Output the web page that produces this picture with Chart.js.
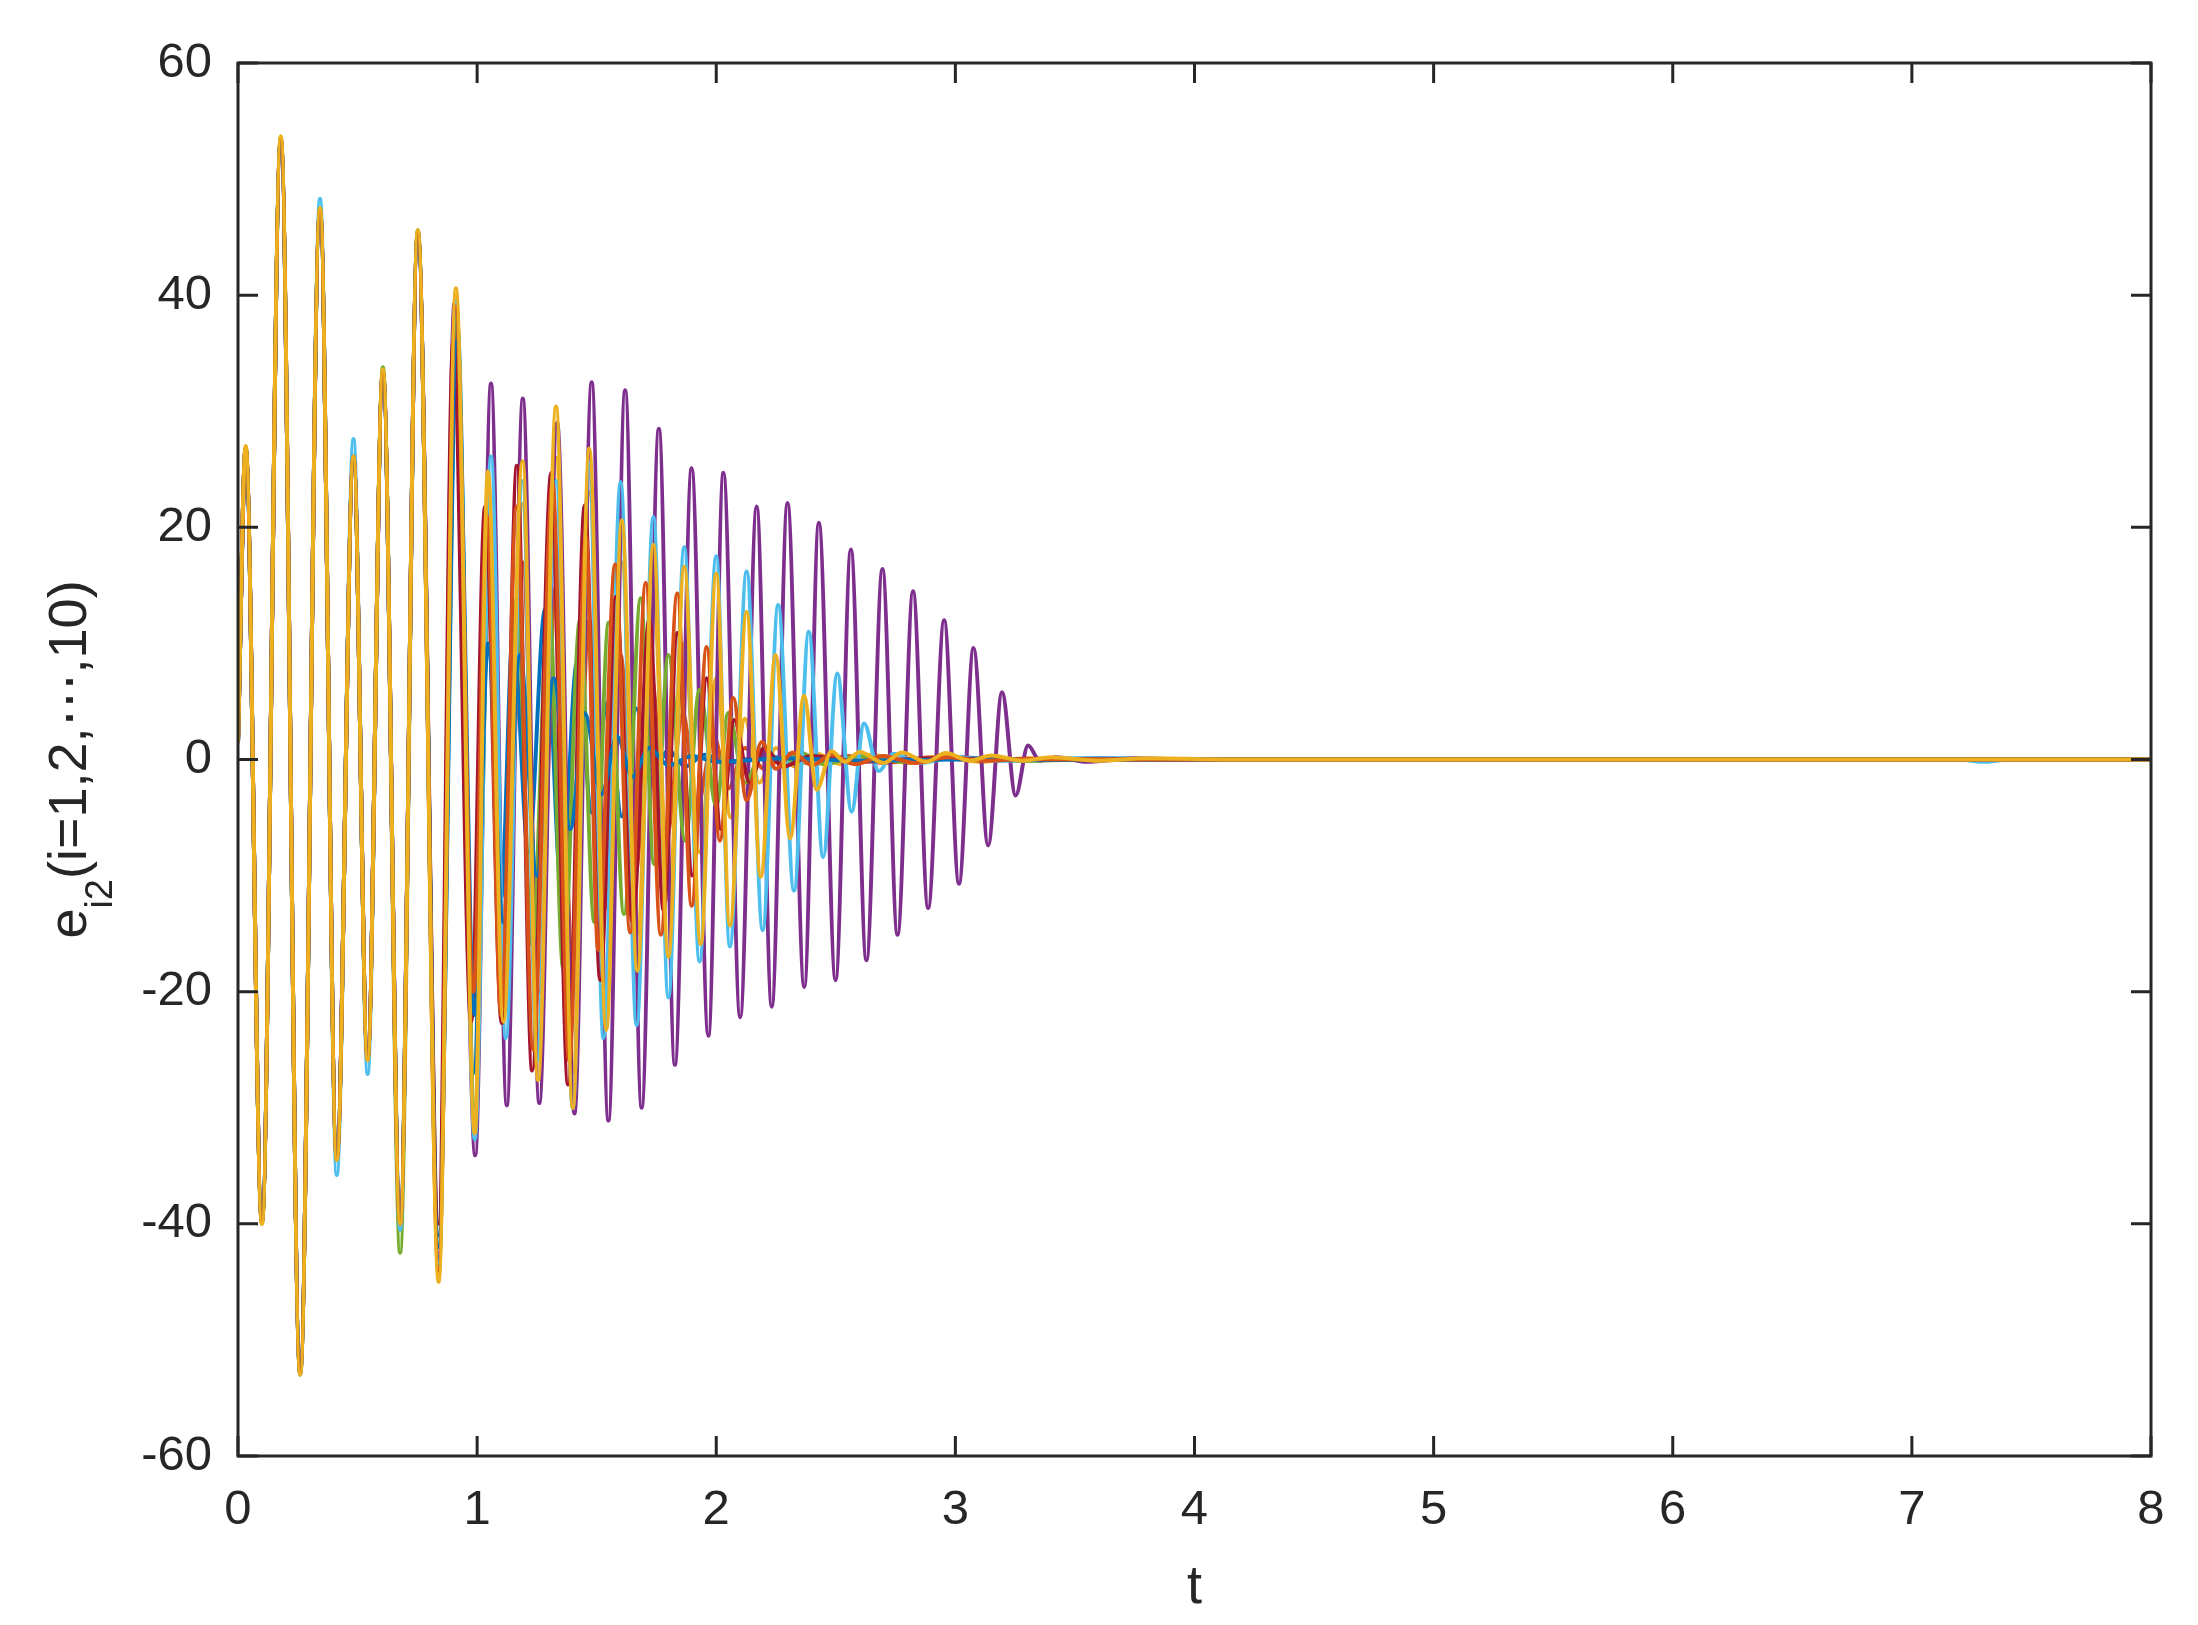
<!DOCTYPE html>
<html><head><meta charset="utf-8">
<script src="https://cdn.jsdelivr.net/npm/chart.js@4.4.0/dist/chart.umd.min.js"></script>
<style>html,body{margin:0;padding:0;background:#fff}#wrap{width:2198px;height:1625px}</style>
</head><body><div id="wrap"><canvas id="c" width="2198" height="1625"></canvas></div>
<script>
// ---- data: [t, e_i2] extrema ----
const e1 = [[0,1.5],[.032,26.5],[.100,-39.5],[.179,53],[.260,-52.5],[.343,47],[.413,-34],[.483,26],[.542,-25.5],[.606,33],[.678,-39],[.752,45],[.839,-41],[.918,37.2],[.985,-27],[1.05,14],[1.10,-12],[1.15,11],[1.215,-8],[1.284,12.9],[1.353,-11.2],[1.417,8.3],[1.48,-4.6],[1.545,4.9],[1.605,-4.9],[1.665,4.4],[1.73,-1.5],[1.80,0.8],[1.87,-0.6],[1.95,0.4],[2.05,-0.3],[2.2,0.3],[2.4,-0.3],[2.6,0.2],[2.8,-0.2],[3.0,0.2],[3.3,-0.1],[3.6,0.1],[4,0],[8,0]];
const e2 = [[0,1.5],[.032,26.8],[.100,-39.8],[.179,53.4],[.260,-52.8],[.343,47.3],[.413,-34.3],[.483,26],[.542,-25.7],[.606,33.3],[.678,-39.8],[.752,45.3],[.839,-43],[.912,38],[.98,-20],[1.05,15],[1.12,-18],[1.19,17],[1.26,-20],[1.33,15],[1.40,-17],[1.47,12],[1.53,-13],[1.60,9],[1.66,-10],[1.73,7],[1.79,-7],[1.86,4],[1.92,-4],[1.99,2],[2.05,-2.5],[2.12,1],[2.2,-0.8],[2.3,0.5],[2.4,-0.4],[2.55,0.3],[2.7,-0.3],[2.9,0.2],[3.1,-0.1],[3.4,0.05],[4,0],[8,0]];
const e3 = [[0,1.5],[.032,26.9],[.100,-40],[.179,53.6],[.260,-53],[.343,47.5],[.413,-34.5],[.483,26.1],[.542,-25.9],[.606,33.5],[.678,-40],[.752,45.5],[.839,-44.5],[.911,40],[.99,-30],[1.05,22],[1.12,-20],[1.19,22],[1.26,-24],[1.33,26],[1.40,-27],[1.47,23],[1.54,-20],[1.605,17],[1.67,-15],[1.737,14],[1.80,-12],[1.866,10],[1.93,-8],[2.0,7],[2.06,-5],[2.12,3.5],[2.18,-2],[2.25,1],[2.33,-0.6],[2.42,0.5],[2.52,-0.4],[2.65,0.4],[2.8,-0.3],[2.95,0.3],[3.1,-0.2],[3.3,0.1],[3.6,0],[8,0]];
const e4 = [[0,1.5],[.032,26.6],[.100,-39.6],[.179,53.2],[.260,-52.6],[.343,47.2],[.413,-34.2],[.483,26],[.542,-25.6],[.606,33.2],[.678,-39.6],[.752,45],[.839,-43],[.905,39.3],[.992,-34.1],[1.058,32.4],[1.124,-29.8],[1.191,31.1],[1.26,-29.6],[1.335,29],[1.407,-30.5],[1.479,32.5],[1.549,-31.1],[1.619,31.8],[1.688,-30],[1.76,28.5],[1.827,-26.3],[1.897,25.1],[1.967,-23.8],[2.03,24.7],[2.1,-22.2],[2.169,21.8],[2.232,-21.3],[2.298,22.1],[2.368,-19.6],[2.429,20.4],[2.499,-19.0],[2.563,18.1],[2.628,-17.3],[2.695,16.4],[2.758,-15.1],[2.823,14.5],[2.886,-12.8],[2.953,12.0],[3.015,-10.7],[3.076,9.6],[3.137,-7.4],[3.195,5.8],[3.252,-3.1],[3.304,1.2],[3.353,-0.1],[3.42,0.2],[3.55,-0.2],[3.75,0.1],[4,0],[8,0]];
const e5 = [[0,1.5],[.032,26.8],[.100,-39.8],[.179,53.4],[.260,-52.8],[.343,47.3],[.413,-34.3],[.483,26],[.542,-25.8],[.606,33.8],[.678,-42.5],[.752,45.6],[.839,-42],[.912,38],[.99,-30],[1.05,15],[1.11,-18],[1.165,13.9],[1.23,-16],[1.30,14],[1.36,-18],[1.43,12],[1.49,-14],[1.55,11.8],[1.614,-13.3],[1.684,13.9],[1.74,-9],[1.80,9],[1.87,-7],[1.93,6],[2.0,-4],[2.05,4],[2.12,-2],[2.2,1],[2.28,-0.5],[2.35,0.6],[2.45,-0.4],[2.6,0.3],[2.8,-0.2],[3.0,0.1],[3.3,-0.1],[3.6,0],[8,0]];
const e6 = [[0,1.5],[.032,26.7],[.100,-39.7],[.179,53.5],[.260,-53],[.343,48.3],[.413,-35.8],[.483,27.6],[.542,-27.1],[.606,33.5],[.678,-40.5],[.752,45.5],[.839,-43.5],[.911,39.5],[.99,-32.7],[1.058,26.1],[1.12,-24],[1.19,24],[1.25,-26],[1.33,24],[1.40,-30],[1.469,25.6],[1.528,-24],[1.60,23.9],[1.667,-22.9],[1.737,20.9],[1.80,-20.5],[1.866,18.3],[1.93,-17.4],[2.0,17.5],[2.057,-16.1],[2.127,16.2],[2.194,-14.7],[2.259,13.3],[2.325,-11.3],[2.387,11.0],[2.447,-8.4],[2.506,7.4],[2.566,-4.5],[2.618,3.1],[2.68,-1],[2.74,0.5],[2.85,-0.3],[3.0,0.2],[3.2,-0.1],[3.5,0.1],[4,0],[7.2,0],[7.3,-0.2],[7.4,0],[8,0]];
const e7 = [[0,1.5],[.032,26.7],[.100,-39.7],[.179,53.3],[.260,-52.5],[.343,47.2],[.413,-34.2],[.483,26],[.542,-25.7],[.606,33.3],[.678,-39.7],[.752,45.3],[.839,-40],[.90,36],[.975,-22.6],[1.033,21.8],[1.103,-22.7],[1.166,25.3],[1.23,-26.8],[1.31,24.7],[1.38,-28],[1.45,21.9],[1.515,-19],[1.58,14],[1.65,-14],[1.72,12],[1.78,-13],[1.837,10.9],[1.90,-10],[1.96,7],[2.02,-6],[2.075,3.4],[2.14,-2],[2.2,1],[2.28,-0.6],[2.4,0.3],[2.6,-0.2],[2.9,0.1],[3.3,0],[8,0]];
const e8 = [[0,1.5],[.032,26.8],[.100,-39.8],[.179,53.3],[.260,-52.8],[.343,47.2],[.413,-34.2],[.483,26],[.542,-25.6],[.606,33.2],[.678,-39.5],[.752,45.2],[.839,-42],[.915,36],[.99,-22],[1.045,10],[1.11,-14],[1.18,9],[1.25,-10],[1.32,7],[1.39,-6],[1.45,4],[1.52,-3],[1.585,2],[1.65,-1.5],[1.72,1],[1.8,-0.5],[1.9,0.3],[2.0,-0.2],[2.3,0.1],[2.6,-0.1],[3,0],[8,0]];
const e9 = [[0,1.5],[.032,26.9],[.100,-39.9],[.179,53.5],[.260,-52.9],[.343,47.4],[.413,-34.4],[.483,26.1],[.542,-25.8],[.606,33.4],[.678,-40],[.752,45.4],[.839,-44],[.91,39],[.985,-20],[1.04,21],[1.10,-22],[1.165,21.8],[1.235,-25],[1.315,23.8],[1.385,-26],[1.455,19.2],[1.506,-16.4],[1.577,16.8],[1.64,-14.9],[1.705,15.2],[1.768,-15.1],[1.837,14.3],[1.897,-12.6],[1.96,9.7],[2.015,-7],[2.071,5.3],[2.127,-3.5],[2.19,1.5],[2.25,-0.8],[2.32,0.6],[2.4,-0.5],[2.48,0.4],[2.58,-0.4],[2.7,0.3],[2.83,-0.3],[2.97,0.2],[3.12,-0.1],[3.3,0.05],[4,0],[8,0]];
const e10 = [[0,1.5],[.032,27],[.100,-40],[.179,53.7],[.260,-53],[.343,47.5],[.413,-34.5],[.483,26.1],[.542,-25.9],[.606,33.6],[.678,-40],[.752,45.6],[.839,-45],[.911,40.6],[.99,-32.2],[1.045,24.8],[1.11,-22.6],[1.19,25.7],[1.255,-27.6],[1.330,30.4],[1.40,-30],[1.469,26.8],[1.54,-23.3],[1.605,20.6],[1.67,-18.2],[1.737,18.5],[1.80,-17],[1.866,16.6],[1.935,-15.9],[2.0,16],[2.057,-14.3],[2.127,12.7],[2.186,-10.1],[2.248,9.0],[2.309,-6.8],[2.367,5.5],[2.42,-2.6],[2.482,0.7],[2.538,-0.2],[2.60,0.65],[2.70,-0.3],[2.776,0.6],[2.88,-0.2],[2.96,0.55],[3.06,-0.1],[3.15,0.35],[3.28,-0.1],[3.4,0.2],[3.6,-0.1],[3.8,0.1],[4.2,0],[8,0]];

const xTicks = [0,1,2,3,4,5,6,7,8];
const yTicks = [-60,-40,-20,0,20,40,60];
const xTitle = 't';
const yTitleMain = 'e';
const yTitleSub = 'i2';
const yTitleRest = '(i=1,2,\u22EF,10)';
const colors = ['#0072BD','#D95319','#EDB120','#7E2F8E','#77AC30','#4DBEEE','#A2142F','#0072BD','#D95319','#EDB120'];
const series = [e1,e2,e3,e4,e5,e6,e7,e8,e9,e10];

const FONT = "'Liberation Sans', Arial, Helvetica, sans-serif";
const AX = '#262626';

const frame = {
  id: 'frame',
  beforeDraw(chart) {
    const ctx = chart.ctx;
    ctx.save(); ctx.fillStyle = '#fff'; ctx.fillRect(0, 0, chart.width, chart.height); ctx.restore();
  },
  afterDraw(chart) {
    const {ctx, chartArea: a, scales: {x, y}} = chart;
    ctx.save();
    ctx.strokeStyle = AX; ctx.lineWidth = 3;
    const L = 20;
    ctx.beginPath();
    xTicks.forEach(v => { const p = x.getPixelForValue(v);
      ctx.moveTo(p, a.bottom); ctx.lineTo(p, a.bottom - L);
      ctx.moveTo(p, a.top); ctx.lineTo(p, a.top + L); });
    yTicks.forEach(v => { const p = y.getPixelForValue(v);
      ctx.moveTo(a.left, p); ctx.lineTo(a.left + L, p);
      ctx.moveTo(a.right, p); ctx.lineTo(a.right - L, p); });
    ctx.stroke();
    ctx.strokeRect(a.left, a.top, a.right - a.left, a.bottom - a.top);
    // x title
    ctx.fillStyle = AX;
    ctx.font = '54px ' + FONT;
    ctx.textAlign = 'center'; ctx.textBaseline = 'alphabetic';
    ctx.fillText(xTitle, (a.left + a.right) / 2, 1603);
    // y title
    ctx.translate(86, (a.top + a.bottom) / 2);
    ctx.rotate(-Math.PI / 2);
    ctx.textAlign = 'left';
    const fMain = '54px ' + FONT, fSub = '38px ' + FONT;
    ctx.font = fMain; const w1 = ctx.measureText(yTitleMain).width;
    ctx.font = fSub; const w2 = ctx.measureText(yTitleSub).width;
    ctx.font = fMain; const w3 = ctx.measureText(yTitleRest).width;
    let x0 = -(w1 + w2 + w3) / 2;
    ctx.font = fMain; ctx.fillText(yTitleMain, x0, 0);
    ctx.font = fSub; ctx.fillText(yTitleSub, x0 + w1, 26);
    ctx.font = fMain; ctx.fillText(yTitleRest, x0 + w1 + w2, 0);
    ctx.restore();
  }
};

const datasets = series.map((s, i) => ({
  data: s.map(p => ({x: p[0], y: p[1]})),
  borderColor: colors[i],
  borderWidth: 4,
  pointRadius: 0,
  fill: false,
  clip: {left: 0, right: 0, top: 2, bottom: 2},
  cubicInterpolationMode: 'monotone',
  order: series.length - 1 - i
}));

new Chart(document.getElementById('c'), {
  type: 'line',
  data: {datasets},
  options: {
    responsive: false, animation: false, devicePixelRatio: 1,
    layout: {padding: {top: 63, right: 47, left: 0, bottom: 0}},
    plugins: {legend: {display: false}, tooltip: {enabled: false}},
    scales: {
      x: {type: 'linear', min: 0, max: 8,
        afterBuildTicks: s => { s.ticks = xTicks.map(v => ({value: v})); },
        afterFit: s => { s.height = 169; },
        grid: {display: false, drawTicks: false}, border: {display: false},
        ticks: {padding: 25, color: AX, font: {family: FONT, size: 49}, maxRotation: 0, callback: v => String(v)}},
      y: {type: 'linear', min: -60, max: 60,
        afterBuildTicks: s => { s.ticks = yTicks.map(v => ({value: v})); },
        afterFit: s => { s.width = 238; },
        grid: {display: false, drawTicks: false}, border: {display: false},
        ticks: {padding: 26, color: AX, font: {family: FONT, size: 49}, callback: v => String(v)}}
    }
  },
  plugins: [frame]
});
</script></body></html>
